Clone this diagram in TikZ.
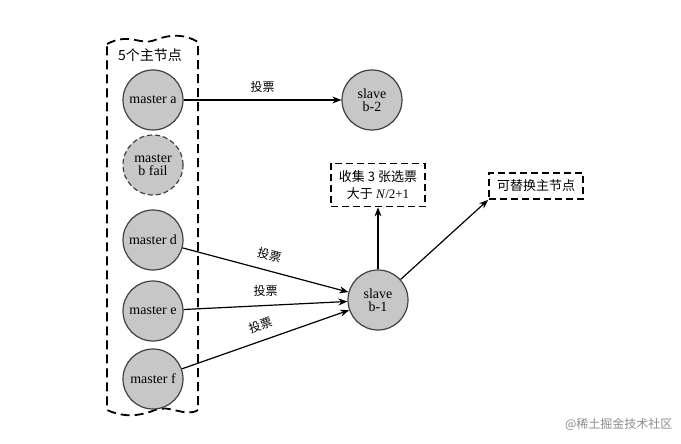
\documentclass[tikz,border=0pt]{standalone}
\usepackage{fontspec}
\setmainfont{Liberation Serif}
\newfontfamily\cjk{Noto Sans CJK SC}
\usetikzlibrary{arrows.meta}
\begin{document}
\begin{tikzpicture}[x=1pt,y=-1pt,
  mnode/.style={circle,draw=black!75,line width=1.2pt,fill=black!22,minimum size=60pt,inner sep=0pt,align=center,font=\fontsize{14}{13}\selectfont},
  dbox/.style={draw,line width=1.8pt,dash pattern=on 7pt off 4pt,align=center,font=\fontsize{13}{17}\selectfont,inner xsep=8pt,inner ysep=7pt},
  arr/.style={-{Stealth[length=9pt,width=7pt]},line width=1.2pt},
  lbl/.style={font=\cjk\fontsize{12}{12}\selectfont}]
\useasboundingbox (0,0) rectangle (681,444);
\fill[white] (0,0) rectangle (681,444);
\draw[line width=1.8pt,dash pattern=on 9pt off 5pt]
  (107,44) .. controls (130,32) and (140,46) .. (155,40) .. controls (170,34) and (185,34) .. (198,42)
  -- (198,410) .. controls (185,418) and (170,404) .. (155,410) .. controls (140,416) and (125,418) .. (107,410) -- cycle;
\node[font=\cjk\fontsize{14}{14}\selectfont] (title) at (150,55) {5个主节点};
\node[mnode] (ma) at (153,100) {master a};
\node[mnode,dash pattern=on 5pt off 3pt] (mb) at (153,165) {master\\b fail};
\node[mnode] (md) at (153,240) {master d};
\node[mnode] (me) at (153,311) {master e};
\node[mnode] (mf) at (153,379) {master f};
\node[mnode] (s2) at (372,100) {slave\\b-2};
\node[mnode] (s1) at (378,300) {slave\\b-1};
\node[dbox] (votes) at (378,185) {{\cjk 收集 3 张选票}\\{\cjk 大于} \textit{N}/2+1};
\node[dbox] (rep) at (536,186) {\cjk 可替换主节点};
\draw[arr] (ma) -- node[lbl,above=4pt] {投票} (s2);
\draw[arr] (md) -- node[lbl,above=6pt,sloped] {投票} (s1);
\draw[arr] (me) -- node[lbl,above=5pt] {投票} (s1);
\draw[arr] (mf) -- node[lbl,above=6pt,sloped] {投票} (s1);
\draw[arr] (s1) -- (votes);
\draw[arr] (s1) -- (rep.south west);
\node[font=\cjk\fontsize{12}{12}\selectfont,text=black!45,anchor=east] (wm) at (676,424) {@稀土掘金技术社区};
\end{tikzpicture}
\end{document}
